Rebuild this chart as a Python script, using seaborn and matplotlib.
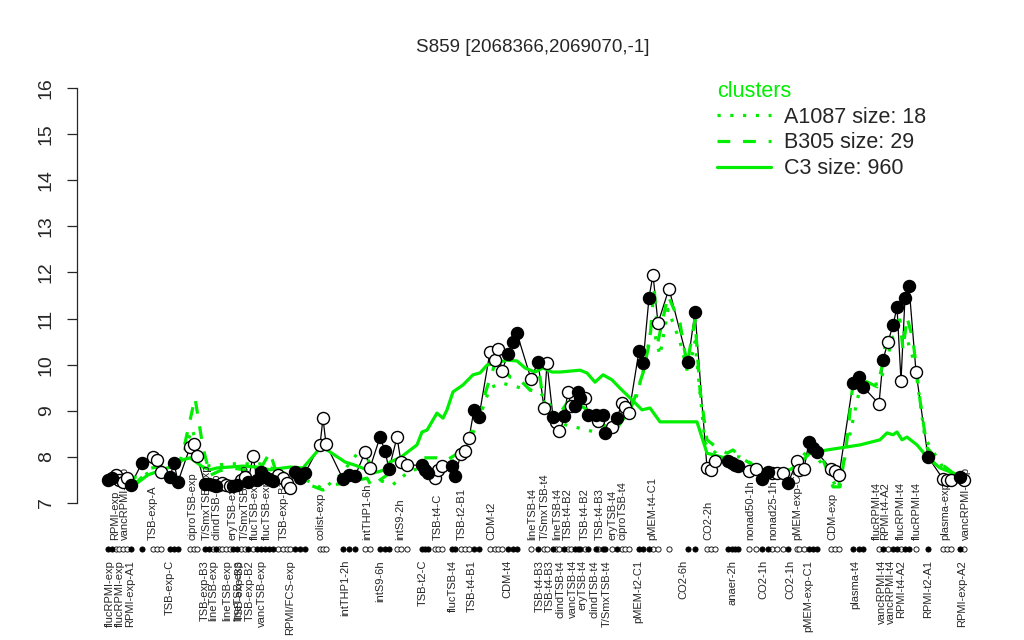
import matplotlib
matplotlib.use("Agg")
import matplotlib.pyplot as plt
import matplotlib.transforms as mtransforms
from matplotlib.lines import Line2D
import seaborn as sns

# === Data ===
# sample position along the condition axis, expression value, filled (1) / open (0) marker
pos = [108, 112, 116, 119, 123, 127, 131, 142,
       153, 157, 161, 170, 174, 178, 190, 194, 197,
       205, 209, 213, 216, 219, 222, 226, 230, 233, 237, 241, 245, 248, 253,
       257, 261, 265, 269, 273, 278, 283, 287, 290, 295, 300, 305,
       320, 323, 326, 343, 349, 355, 365, 370, 380, 385, 389, 397, 401, 407,
       422, 425, 428, 435, 438, 442, 452, 455, 461, 465, 469, 474, 479,
       490, 495, 498, 502, 508, 513, 517, 531, 538, 544, 547,
       553, 556, 559, 564, 568, 571, 575, 578, 580, 585,
       588, 596, 598, 603, 605, 612, 617, 622, 625, 629,
       639, 643, 649, 653, 658, 669, 688, 695,
       707, 711, 715, 728, 732, 735, 738, 749, 756, 762, 768, 772, 777, 783, 788,
       797, 799, 804, 809, 813, 817, 831, 835, 839, 853, 859, 863,
       879, 883, 888, 893, 897, 901, 905, 909, 916, 928, 943, 947, 951, 960, 964]
expr = [7.5, 7.55, 7.6, 7.5, 7.45, 7.55, 7.4, 7.87,
        8.0, 7.93, 7.67, 7.56, 7.87, 7.46, 8.21, 8.28, 8.02,
        7.41, 7.42, 7.38, 7.36, 7.4, 7.43, 7.38, 7.36, 7.36, 7.4, 7.5, 7.56, 7.45, 8.02,
        7.5, 7.67, 7.56, 7.52, 7.48, 7.6, 7.55, 7.43, 7.33, 7.67, 7.54, 7.65,
        8.26, 8.84, 8.28, 7.52, 7.6, 7.58, 8.1, 7.76, 8.43, 8.13, 7.73, 8.43, 7.89, 7.82,
        7.82, 7.72, 7.65, 7.54, 7.72, 7.8, 7.8, 7.58, 8.07, 8.12, 8.4, 9.02, 8.87,
        10.28, 10.1, 10.34, 9.87, 10.23, 10.49, 10.68, 9.69, 10.06, 9.06, 10.04,
        8.87, 8.76, 8.56, 8.89, 9.41, 9.1, 9.1, 9.41, 9.28, 9.28,
        8.91, 8.91, 8.78, 8.91, 8.52, 8.65, 8.84, 9.17, 9.08, 8.95,
        10.3, 10.04, 11.45, 11.95, 10.9, 11.65, 10.05, 11.15,
        7.76, 7.72, 7.9, 7.91, 7.86, 7.82, 7.8, 7.7, 7.74, 7.52, 7.67, 7.64, 7.65, 7.65, 7.43,
        7.91, 7.72, 7.74, 8.32, 8.2, 8.1, 7.74, 7.7, 7.6, 9.6, 9.73, 9.52,
        9.15, 10.1, 10.5, 10.85, 11.25, 9.65, 11.45, 11.7, 9.85, 8.0, 7.52, 7.5, 7.5, 7.56, 7.5]
solid = [1, 1, 0, 0, 0, 0, 1, 1,
         0, 0, 0, 1, 1, 1, 0, 0, 0,
         1, 1, 0, 1, 0, 0, 0, 0, 1, 1, 0, 0, 1, 0,
         1, 1, 1, 1, 1, 0, 0, 0, 0, 1, 1, 1,
         0, 0, 0, 1, 1, 1, 0, 0, 1, 1, 1, 0, 0, 0,
         1, 1, 1, 0, 0, 0, 1, 1, 0, 0, 0, 1, 1,
         0, 0, 0, 0, 1, 1, 1, 0, 1, 0, 0,
         1, 0, 0, 1, 0, 0, 1, 1, 1, 0,
         1, 1, 0, 1, 1, 0, 1, 0, 0, 0,
         1, 1, 1, 0, 0, 0, 1, 1,
         0, 0, 0, 1, 1, 1, 1, 0, 0, 1, 1, 0, 0, 0, 1,
         0, 0, 0, 1, 1, 1, 0, 0, 0, 1, 1, 1,
         0, 1, 0, 1, 1, 0, 1, 1, 0, 1, 0, 0, 0, 1, 0]

# cluster profiles
c3_pos = [137, 148, 170, 182, 190, 203, 210, 217, 230, 243, 257, 270, 290, 303, 320, 327,
          345, 355, 367, 377, 385, 390, 400, 417, 422, 427, 437, 443, 447, 453, 463, 473,
          480, 487, 507, 517, 525, 535, 543, 552, 560, 570, 580, 587, 595, 603, 612, 620,
          630, 642, 650, 660, 697, 707, 730, 743, 790, 800, 810, 827, 860, 880, 887, 893,
          897, 902, 907, 917, 927, 940, 953, 963]
c3_val = [7.43, 7.61, 7.78, 7.93, 7.98, 7.78, 7.72, 7.76, 7.78, 7.8, 7.78, 7.72, 7.78, 7.76, 8.19, 8.15,
          7.89, 7.82, 7.72, 7.67, 7.72, 7.89, 7.98, 8.26, 8.54, 8.58, 8.95, 8.84, 9.02, 9.41, 9.56, 9.78,
          9.82, 9.99, 10.1, 10.08, 9.93, 9.84, 9.93, 9.84, 9.84, 9.86, 9.88, 9.82, 9.62, 9.78, 9.67, 9.49,
          9.28, 9.02, 9.06, 8.76, 8.76, 8.08, 7.95, 7.72, 7.72, 7.87, 8.08, 8.15, 8.26, 8.37, 8.52, 8.48,
          8.54, 8.37, 8.43, 8.26, 8.0, 7.76, 7.65, 7.56]
b305_pos = [108, 125, 137, 150, 160, 170, 180, 185, 195, 203, 210, 220, 235, 250, 262, 270, 275,
            290, 300, 310, 323, 335, 350, 367, 372, 380, 390, 400, 423, 437, 447, 463, 470,
            477, 483, 490, 497, 510, 520, 530, 540, 543, 550, 560, 567, 573, 587, 595, 602,
            610, 618, 627, 633, 643, 650, 654, 658, 668, 680, 687, 695, 700, 707, 717, 727,
            733, 743, 757, 783, 800, 810, 818, 827, 833, 840, 847, 853, 863, 877, 882, 887,
            893, 900, 903, 907, 913, 920, 927, 940, 953, 963]
b305_val = [7.6, 7.6, 7.45, 7.75, 7.8, 7.7, 7.9, 8.3, 9.28, 8.2, 7.6, 7.7, 7.75, 7.7, 7.8, 8.1, 7.75,
            7.65, 7.5, 7.39, 7.28, 7.4, 7.45, 7.54, 7.35, 7.5, 7.65, 7.75, 7.98, 7.98, 7.93, 8.15, 8.52,
            8.65, 9.23, 9.7, 10.15, 9.73, 9.67, 9.45, 9.73, 9.23, 9.02, 8.95, 9.17, 9.23, 9.02, 8.65, 8.73,
            8.58, 8.65, 8.95, 9.17, 9.82, 10.54, 11.7, 10.5, 11.5, 10.9, 10.0, 10.97, 9.45, 8.37, 8.2, 8.08,
            8.15, 7.95, 7.78, 7.67, 7.87, 8.26, 8.2, 7.72, 7.35, 7.35, 8.37, 9.6, 9.67, 9.52, 9.95, 10.69,
            10.9, 10.97, 10.32, 11.03, 10.54, 9.23, 8.2, 7.87, 7.65, 7.56]
a1087_pos = [108, 140, 160, 180, 192, 205, 230, 260, 290, 312, 323, 340, 362, 378, 393, 410, 440,
             460, 477, 490, 502, 520, 540, 555, 565, 593, 620, 635, 645, 652, 660, 668, 680,
             688, 695, 705, 720, 740, 760, 790, 810, 825, 838, 850, 860, 880, 893, 905, 915,
             925, 945, 963]
a1087_val = [7.6, 7.55, 7.8, 7.85, 8.6, 7.8, 7.85, 7.85, 7.6, 7.45, 7.3, 7.6, 8.2, 7.5, 7.4, 7.7, 7.85,
             7.95, 8.7, 9.5, 9.6, 9.5, 9.4, 9.0, 8.7, 8.55, 8.7, 9.2, 10.0, 10.9, 10.2, 11.2, 10.5,
             9.8, 10.5, 8.3, 8.0, 8.0, 7.75, 7.7, 8.2, 7.75, 7.3, 8.5, 9.5, 9.6, 10.6, 10.7, 10.0,
             8.4, 7.7, 7.55]

# condition labels above and below the sample strip
upper_labels = ["RPMI-exp", "vancRPMI-exp", "TSB-exp-A", "ciproTSB-exp", "T/SmxTSB-exp",
                "clindTSB-exp", "eryTSB-exp", "T/SmxTSB-exp", "flucTSB-exp", "flucTSB-exp",
                "TSB-exp-B1", "colist-exp", "intTHP1-6h", "intS9-2h", "TSB-t4-C", "TSB-t2-B1",
                "CDM-t2", "lineTSB-t4", "T/SmxTSB-t4", "lineTSB-t4", "TSB-t4-B2", "TSB-t4-B2",
                "TSB-t4-B3", "eryTSB-t4", "ciproTSB-t4", "pMEM-t4-C1", "CO2-2h", "nonad50-1h",
                "nonad25-1h", "pMEM-exp-C1", "CDM-exp", "flucRPMI-t4", "RPMI-t4-A2",
                "flucRPMI-t4", "flucRPMI-t4", "plasma-exp", "vancRPMI-exp"]
upper_pos = [115, 125, 153, 192, 207, 217, 233, 245, 255, 267, 284, 320, 367, 400, 438, 462,
             491, 532, 545, 557, 568, 585, 600, 612, 623, 652, 708, 750, 773, 797, 832, 877, 885,
             901, 917, 945, 966]
lower_labels = ["flucRPMI-exp", "flucRPMI-exp", "RPMI-exp-A1", "TSB-exp-C", "TSB-exp-B3",
                "lineTSB-exp", "lineTSB-exp", "lineTSB-exp", "TSB-exp-B3", "TSB-exp-B2",
                "vancTSB-exp", "RPMI/FCS-exp", "intTHP1-2h", "intS9-6h", "TSB-t2-C",
                "flucTSB-t4", "TSB-t4-B1", "CDM-t4", "TSB-t4-B3", "TSB-t4-B3", "clindTSB-t4",
                "vancTSB-t4", "eryTSB-t4", "clindTSB-t4", "T/SmxTSB-t4", "pMEM-t2-C1", "CO2-6h",
                "anaer-2h", "CO2-1h", "CO2-1h", "pMEM-exp-C1", "plasma-t4", "vancRPMI-t4",
                "vancRPMI-t4", "RPMI-t4-A2", "RPMI-t2-A1", "RPMI-exp-A2"]
lower_pos = [110, 120, 130, 170, 205, 213, 227, 238, 240, 250, 262, 290, 345, 380, 423, 453,
             472, 507, 540, 550, 560, 573, 583, 595, 607, 638, 683, 732, 763, 790, 808, 855,
             882, 891, 901, 928, 962]

GREEN = "#00ee00"

# === Figure ===
sns.set_style("white")
plt.rcParams["font.family"] = ["Liberation Sans", "DejaVu Sans"]

fig = plt.figure(figsize=(10.24, 6.4), dpi=100)
ax = fig.add_axes([77 / 1024, 1 - 519.6 / 640, 922 / 1024, 448.2 / 640])

sns.lineplot(x=pos, y=expr, color="black", lw=0.9, estimator=None, sort=False, ax=ax, zorder=2)
sns.lineplot(x=c3_pos, y=c3_val, color=GREEN, lw=2.3, estimator=None, sort=False, ax=ax, zorder=3)
sns.lineplot(x=b305_pos, y=b305_val, color=GREEN, lw=2.3, linestyle=(0, (4, 4)),
             estimator=None, sort=False, ax=ax, zorder=3)
sns.lineplot(x=a1087_pos, y=a1087_val, color=GREEN, lw=2.3, linestyle=(0, (1, 3)),
             estimator=None, sort=False, ax=ax, zorder=3)

pos_open = [p for p, s in zip(pos, solid) if s == 0]
val_open = [v for v, s in zip(expr, solid) if s == 0]
pos_fill = [p for p, s in zip(pos, solid) if s == 1]
val_fill = [v for v, s in zip(expr, solid) if s == 1]
sns.scatterplot(x=pos_open, y=val_open, color="white", edgecolor="black", linewidth=1.0,
                s=75, ax=ax, zorder=4)
sns.scatterplot(x=pos_fill, y=val_fill, color="black", edgecolor="black", linewidth=1.0,
                s=75, ax=ax, zorder=4)

# strip of sample markers under the plot
strip = mtransforms.blended_transform_factory(ax.transData, ax.transAxes)
ax.scatter(pos_open, [-0.066] * len(pos_open), s=14, facecolor="white", edgecolor="black",
           linewidth=0.6, transform=strip, clip_on=False)
ax.scatter(pos_fill, [-0.066] * len(pos_fill), s=14, facecolor="black", edgecolor="black",
           linewidth=0.6, transform=strip, clip_on=False)

for lab, x in zip(upper_labels, upper_pos):
    ax.text(x, -0.046, lab, transform=strip, rotation=90, ha="center", va="bottom", fontsize=8)
for lab, x in zip(lower_labels, lower_pos):
    ax.text(x, -0.09, lab, transform=strip, rotation=90, ha="center", va="top", fontsize=8)

ax.set_xlim(77, 999)
ax.set_ylim(6.64, 16.36)
ax.set_yticks(range(7, 17))
ax.set_yticklabels([str(t) for t in range(7, 17)], rotation=90, va="center", fontsize=14)
ax.set_xticks([])
for side in ["top", "right", "bottom"]:
    ax.spines[side].set_visible(False)
ax.spines["left"].set_bounds(7, 16)
ax.spines["left"].set_linewidth(0.9)
ax.tick_params(axis="y", direction="out", length=7, width=0.9, left=True, pad=9)
ax.set_xlabel("")
ax.set_ylabel("")

fig.text(533 / 1024, 1 - 47 / 640, "S859 [2068366,2069070,-1]", ha="center", va="center",
         fontsize=13.5)

handles = [Line2D([0], [0], color=GREEN, lw=2.3, linestyle=(0, (1, 3))),
           Line2D([0], [0], color=GREEN, lw=2.3, linestyle=(0, (4, 4))),
           Line2D([0], [0], color=GREEN, lw=2.3)]
leg = ax.legend(handles, ["A1087 size: 18", "B305 size: 29", "C3 size: 960"],
                title="clusters", loc="upper left", frameon=False, fontsize=15.5,
                title_fontsize=15.5, bbox_to_anchor=(717 / 1024, 1 - 81 / 640),
                bbox_transform=fig.transFigure, borderpad=0, borderaxespad=0,
                handlelength=2.5, handletextpad=0.6, labelspacing=0.22, alignment="left")
leg.get_title().set_color(GREEN)

fig.savefig("out.png", dpi=100)
